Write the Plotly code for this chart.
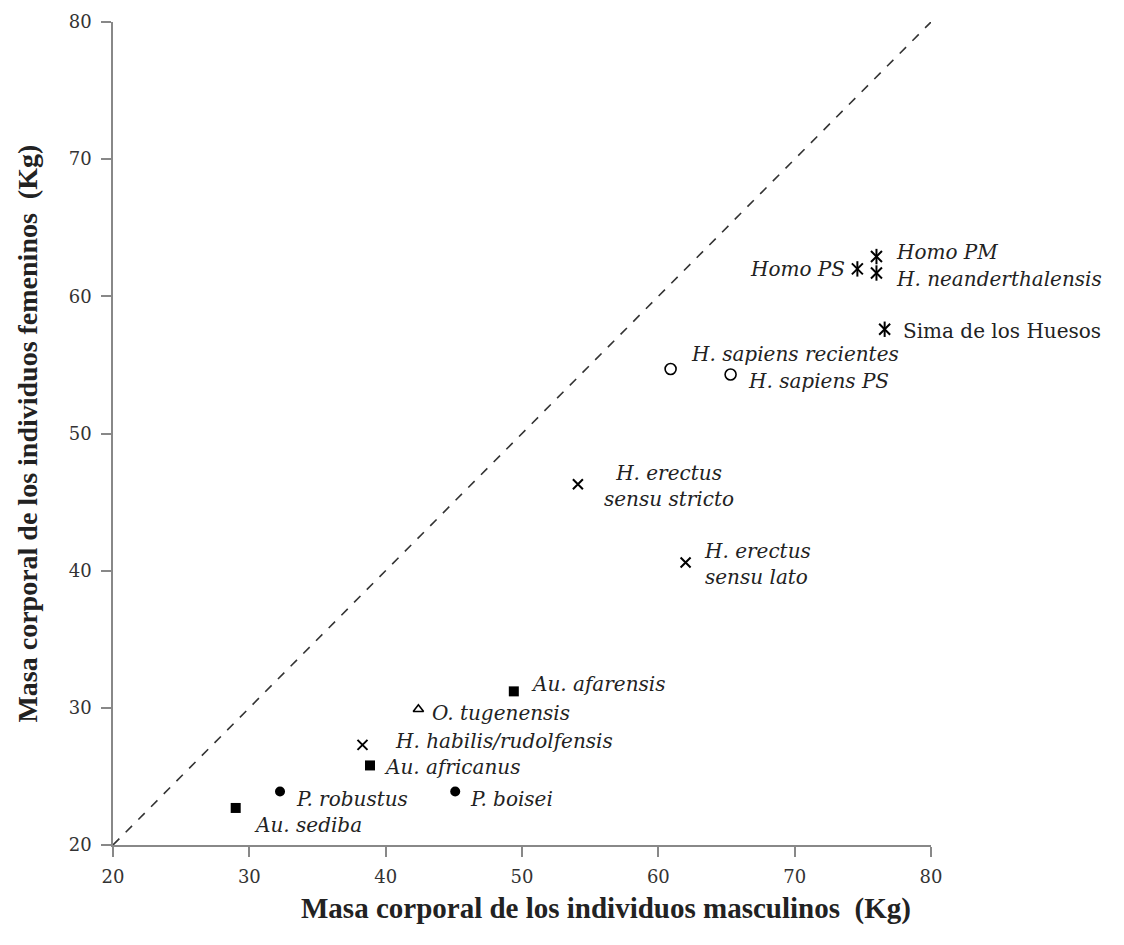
import plotly.graph_objects as go

# Body mass estimates (kg) per taxon: male vs female
taxa = ["Homo PM", "H. neanderthalensis", "Homo PS", "Sima de los Huesos",
        "H. sapiens recientes", "H. sapiens PS",
        "H. erectus<br>sensu stricto", "H. erectus<br>sensu lato",
        "Au. afarensis", "O. tugenensis", "H. habilis/rudolfensis",
        "Au. africanus", "P. robustus", "P. boisei", "Au. sediba"]
male = [76.0, 76.0, 74.6, 76.6, 60.9, 65.3, 54.1, 62.0,
        49.4, 42.4, 38.3, 38.85, 32.25, 45.1, 29.0]
female = [62.9, 61.7, 62.0, 57.6, 54.7, 54.3, 46.3, 40.6,
          31.2, 29.9, 27.3, 25.8, 23.9, 23.9, 22.7]
group = ["late", "late", "late", "late", "sapiens", "sapiens", "erectus", "erectus",
         "austral", "oro", "erectus", "austral", "para", "para", "austral"]

# label placement: (xanchor, xshift, yshift, align)
label_pos = {
    "Homo PM": ("left", 18, 5, "left"),
    "H. neanderthalensis": ("left", 18, -6, "left"),
    "Homo PS": ("right", -10, 0, "right"),
    "Sima de los Huesos": ("left", 16, -2, "left"),
    "H. sapiens recientes": ("left", 18, 15, "left"),
    "H. sapiens PS": ("left", 15, -6, "left"),
    "H. erectus<br>sensu stricto": ("center", 91, -2, "center"),
    "H. erectus<br>sensu lato": ("left", 16, -2, "left"),
    "Au. afarensis": ("left", 15, 7, "left"),
    "O. tugenensis": ("left", 12, -4, "left"),
    "H. habilis/rudolfensis": ("left", 31, 4, "left"),
    "Au. africanus": ("left", 12, -2, "left"),
    "P. robustus": ("left", 14, -7, "left"),
    "P. boisei": ("left", 13, -7, "left"),
    "Au. sediba": ("left", 16, -17, "left"),
}

marker_styles = {
    "austral": dict(symbol="square", size=10, color="black"),
    "para": dict(symbol="circle", size=10, color="black"),
    "oro": dict(symbol="triangle-up-open", size=9, color="black", line=dict(width=1.6, color="black")),
    "erectus": dict(symbol="x-thin-open", size=10, color="black", line=dict(width=2, color="black")),
    "sapiens": dict(symbol="circle-open", size=11, color="black", line=dict(width=1.6, color="black")),
}

fig = go.Figure()

# identity line (equal male and female mass)
fig.add_trace(go.Scatter(x=[20, 80], y=[20, 80], mode="lines",
                         line=dict(color="#333", width=1.6, dash="dash"),
                         hoverinfo="skip"))

for g, style in marker_styles.items():
    idx = [i for i, v in enumerate(group) if v == g]
    fig.add_trace(go.Scatter(x=[male[i] for i in idx], y=[female[i] for i in idx],
                             mode="markers", marker=style, text=[taxa[i] for i in idx]))

# six-armed asterisk for the late Homo groups: an x with a vertical bar
idx = [i for i, v in enumerate(group) if v == "late"]
for sym in ["x-thin-open", "line-ns-open"]:
    fig.add_trace(go.Scatter(x=[male[i] for i in idx], y=[female[i] for i in idx],
                             mode="markers",
                             marker=dict(symbol=sym, size=11, color="black",
                                         line=dict(width=2, color="black"))))

for name, xm, yf in zip(taxa, male, female):
    xa, xs, ys, al = label_pos[name]
    fig.add_annotation(x=xm, y=yf, text=name, showarrow=False,
                       xanchor=xa, yanchor="middle", xshift=xs, yshift=ys, align=al,
                       font=dict(family="DejaVu Serif", size=20, color="#222",
                                 style="normal" if name == "Sima de los Huesos" else "italic"))

axis_common = dict(range=[20, 80], dtick=10, showgrid=False, zeroline=False,
                   showline=True, linecolor="#888", linewidth=1.5,
                   ticks="outside", ticklen=10, tickcolor="#888", tickwidth=1.5,
                   tickfont=dict(family="DejaVu Serif", size=18, color="#333"))

fig.update_xaxes(**axis_common, ticklabelstandoff=5)
fig.update_yaxes(**axis_common, ticklabelstandoff=6)

fig.add_annotation(xref="paper", yref="paper", x=0.603, y=-0.055,
                   text="<b>Masa corporal de los individuos masculinos  (Kg)</b>",
                   showarrow=False, xanchor="center", yanchor="top",
                   font=dict(family="Liberation Serif", size=29, color="#222"))
fig.add_annotation(xref="paper", yref="paper", x=-0.105, y=0.5,
                   text="<b>Masa corporal de los individuos femeninos  (Kg)</b>",
                   showarrow=False, textangle=-90, xanchor="center", yanchor="middle",
                   font=dict(family="Liberation Serif", size=28, color="#222"))

fig.update_layout(width=1124, height=945, showlegend=False,
                  margin=dict(l=113, r=193, t=22, b=100),
                  plot_bgcolor="white", paper_bgcolor="white")

fig.write_html("out.html")
